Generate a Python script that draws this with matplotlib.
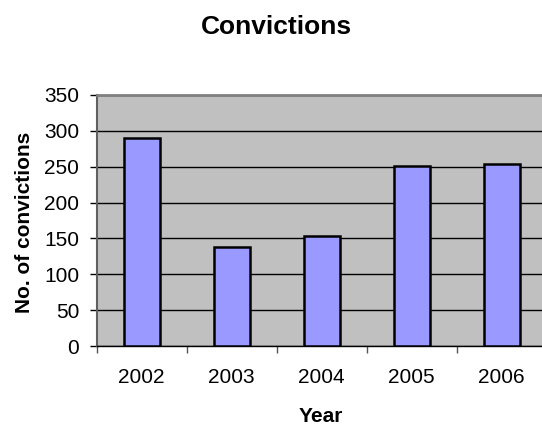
import matplotlib
matplotlib.use("Agg")
import matplotlib.pyplot as plt

years = ["2002", "2003", "2004", "2005", "2006"]
convictions = [290, 138, 154, 251, 254]
yticks = [0, 50, 100, 150, 200, 250, 300, 350]

plt.rcParams['font.family'] = ['Liberation Sans', 'DejaVu Sans']

W, H = 542, 426
fig = plt.figure(figsize=(W / 100, H / 100), dpi=100)
left, right, top, bottom = 96.5, 546.5, 95, 346
ax = fig.add_axes([left / W, 1 - bottom / H, (right - left) / W, (bottom - top) / H])
ax.set_facecolor('#C0C0C0')

x = list(range(len(years)))
ax.bar(x, convictions, width=0.4, color='#9999FF', edgecolor='black', linewidth=1.8, zorder=3)
ax.set_xlim(-0.5, len(years) - 0.5)
ax.set_ylim(0, 350)
ax.set_yticks(yticks)
ax.set_yticklabels([str(v) for v in yticks], fontsize=15)
ax.yaxis.grid(True, color='black', linewidth=1.0, zorder=1)
ax.set_axisbelow(True)

ax.set_xticks(x)
ax.set_xticklabels(years, fontsize=15)
ax.tick_params(axis='x', length=0, pad=16)
# boundary ticks
ax.set_xticks([i - 0.5 for i in range(len(years) + 1)], minor=True)
ax.tick_params(axis='x', which='minor', length=5, width=1.0, color='#555555', direction='out')
ax.tick_params(axis='y', length=5, width=1.0, color='black', direction='out', pad=7.5)

for s in ['top', 'right']:
    ax.spines[s].set_color('#808080')
    ax.spines[s].set_linewidth(2)
ax.spines['left'].set_color('#606060')
ax.spines['left'].set_linewidth(1.5)
ax.spines['bottom'].set_color('black')
ax.spines['bottom'].set_linewidth(1.0)

fig.text(276 / W, 1 - 34 / H, "Convictions", ha='center', va='baseline',
         fontsize=19, fontweight='bold')
fig.text(25 / W, 1 - 222 / H, "No. of convictions", ha='center', va='center',
         rotation=90, fontsize=15, fontweight='bold')
fig.text(320.5 / W, 1 - 421.5 / H, "Year", ha='center', va='baseline',
         fontsize=15, fontweight='bold')

fig.savefig("out.png", dpi=100)
